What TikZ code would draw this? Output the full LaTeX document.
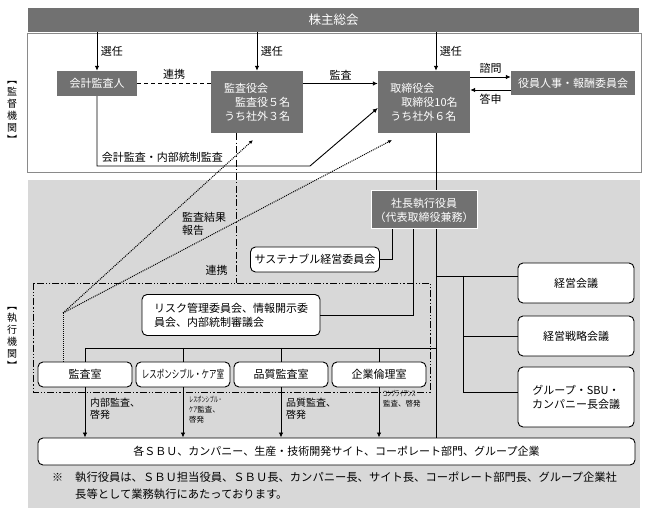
\documentclass[tikz,border=0pt]{standalone}
\usepackage{fontspec}
\setmainfont{Noto Sans CJK JP}
\newfontfamily\narrowjp[FakeStretch=0.68]{Noto Sans CJK JP}
\newfontfamily\tinyjp[FakeStretch=0.55]{Noto Sans CJK JP}
\usetikzlibrary{arrows.meta}

\definecolor{boardgray}{HTML}{717171}
\definecolor{framegray}{HTML}{8A8A8A}
\definecolor{execgray}{HTML}{D8D8D8}

\begin{document}
\begin{tikzpicture}[x=1pt, y=-1pt,
    every node/.style={font=\fontsize{11pt}{14pt}\selectfont},
    darkbox/.style={fill=boardgray, text=white, inner sep=0pt},
    roundbox/.style={draw, fill=white, rounded corners=5pt, line width=0.9pt, inner sep=0pt},
    arr/.style={-{Latex[length=5pt,width=4.5pt]}, line width=0.9pt},
    link/.style={line width=0.9pt},
    dashlink/.style={line width=0.9pt, dash pattern=on 4pt off 3pt},
    chainline/.style={line width=0.9pt, dash pattern=on 7pt off 2.5pt on 1.2pt off 2.5pt},
    groupframe/.style={line width=0.9pt, dash pattern=on 7pt off 2pt on 1.2pt off 2pt on 1.2pt off 2pt},
    dotline/.style={line width=1pt, dash pattern=on 1pt off 1pt},
    dotarr/.style={dotline, -{Latex[length=4pt,width=3.5pt]}},
    sidelabel/.style={font=\fontsize{10pt}{12pt}\selectfont, align=left, anchor=west, inner sep=0pt},
    tinylabel/.style={font=\fontsize{7.5pt}{10pt}\selectfont, align=left, anchor=north west, inner sep=0pt},
    vlabel/.style={font=\fontsize{10pt}{12pt}\selectfont, align=center, inner sep=0pt}]
    \useasboundingbox (0,0) rectangle (648,518);
    \fill[execgray] (28,180) rectangle (640,508);
    \draw[framegray, fill=white, line width=1pt] (27.5,34) rectangle (641.5,173);

    \node (shareholders) [darkbox, minimum width=611pt, minimum height=24pt, font=\fontsize{12.5pt}{14pt}\selectfont] at (333.5, 20) {株主総会};
    \node (kantokulabel) [vlabel] at (12, 112) {︻\\監\\督\\機\\関\\︼};
    \node (shikkolabel) [vlabel] at (12, 338) {︻\\執\\行\\機\\関\\︼};

    \node (kaikei) [darkbox, minimum width=80pt, minimum height=25pt] at (97, 83.5) {会計監査人};
    \node (kansayaku) [darkbox, minimum width=92pt, minimum height=62pt, align=left] at (257, 102) {監査役会\\\hspace*{1em}監査役５名\\うち社外３名};
    \node (torishimari) [darkbox, minimum width=92pt, minimum height=62pt, align=left] at (424, 102) {取締役会\\\hspace*{1em}取締役10名\\うち社外６名};
    \node (jinji) [darkbox, minimum width=124pt, minimum height=24pt] at (573, 83) {役員人事・報酬委員会};

    \coordinate (trunk) at (436, 0);
    \coordinate (bend) at (310, 166);

    \node (sbu) [roundbox, minimum width=597pt, minimum height=27pt] at (336.5, 451.5) {各ＳＢＵ、カンパニー、生産・技術開発サイト、コーポレート部門、グループ企業};

    \draw[arr] (kaikei |- shareholders.south) -- node[right] {選任} (kaikei.north);
    \draw[arr] (kansayaku |- shareholders.south) -- node[right] {選任} (kansayaku.north);
    \draw[arr] (trunk |- shareholders.south) -- node[right] {選任} (trunk |- torishimari.north);
    \draw[dashlink] (kaikei.east) -- node[above] {連携} (kansayaku.west |- kaikei.east);
    \draw[arr] (kansayaku.east |- kaikei.east) -- node[above] {監査} (torishimari.west |- kaikei.east);
    \draw[arr] (torishimari.east |- 0,77) -- node[above] {諮問} (jinji.west |- 0,77);
    \draw[arr] (jinji.west |- 0,90) -- node[below] {答申} (torishimari.east |- 0,90);
    \draw[arr] (kaikei.south) -- (kaikei.south |- bend) node[above right, xshift=1pt] {会計監査・内部統制監査} -- (bend) -- (torishimari.west |- 0,108);

    \draw[link] (trunk |- torishimari.south) -- (trunk |- sbu.north);
    \node (shacho) [darkbox, draw=white, line width=1pt, minimum width=106pt, minimum height=38pt, align=center] at (424, 210) {社長執行役員\\（代表取締役兼務）};

    \node (sustain) [roundbox, minimum width=129pt, minimum height=25pt] at (315, 259.5) {サステナブル経営委員会};
    \node (risk) [roundbox, minimum width=178pt, minimum height=41pt, align=left] at (231, 315) {リスク管理委員会、情報開示委\\員会、内部統制審議会};
    \draw[link] (shacho.south -| 392,0) |- (sustain.east);
    \draw[link] (shacho.south -| 413,0) |- (risk.east);

    \draw[groupframe] (33,283) rectangle (430,392);
    \coordinate (frametop) at (236, 283);

    \node (kansashitsu) [roundbox, minimum width=94pt, minimum height=25pt] at (85, 374.5) {監査室};
    \node (rcare) [roundbox, minimum width=94pt, minimum height=25pt] at (183, 374.5) {\narrowjp レスポンシブル・ケア室};
    \node (hinshitsu) [roundbox, minimum width=94pt, minimum height=25pt] at (281, 374.5) {品質監査室};
    \node (rinri) [roundbox, minimum width=94pt, minimum height=25pt] at (379, 374.5) {企業倫理室};

    \draw[link] (kansashitsu.north |- 0,348) -- (trunk |- 0,348);
    \foreach \unit in {kansashitsu, rcare, hinshitsu, rinri} {
        \draw[link] (\unit.north |- 0,348) -- (\unit.north);
        \draw[arr] (\unit.south) -- (\unit.south |- sbu.north);
    }

    \node (naibulabel) [sidelabel] at (90, 409) {内部監査、\\啓発};
    \node (hinshitsulabel) [sidelabel] at (286, 409) {品質監査、\\啓発};
    \node (rclabel) [tinylabel] at (189, 396) {{\tinyjp レスポンシブル・}\\{\tinyjp ケア}監査、\\啓発};
    \node (compllabel) [tinylabel] at (383, 390) {{\tinyjp コンプライアンス}\\監査、啓発};

    \node (keiei) [roundbox, minimum width=116pt, minimum height=40pt] at (576, 283) {経営会議};
    \node (senryaku) [roundbox, minimum width=116pt, minimum height=40pt] at (576, 336) {経営戦略会議};
    \node (groupmtg) [roundbox, minimum width=116pt, minimum height=60pt, align=center] at (576, 397) {グループ・SBU・\\カンパニー長会議};

    \coordinate (meetbus) at (463, 276);
    \draw[link] (trunk |- meetbus) -- (keiei.west |- meetbus);
    \draw[link] (meetbus) |- (groupmtg.west |- 0,392);
    \draw[link] (meetbus |- senryaku.west) -- (senryaku.west);

    \coordinate (reportfork) at (63, 313);
    \coordinate (kansayakuend) at (253, 140);
    \coordinate (torishimariend) at (392, 140);
    \draw[dotline] (kansashitsu.north -| reportfork) -- (reportfork);
    \draw[dotarr] (reportfork) -- (kansayakuend);
    \draw[dotarr] (reportfork) -- (torishimariend);
    \draw[chainline] (kansayaku.south -| frametop) -- (frametop);

    \node (reportlabel) [align=left, anchor=west, inner sep=0pt, font=\fontsize{11pt}{13pt}\selectfont] at (182, 224) {監査結果\\報告};
    \node (renkeilabel) [inner sep=0pt] at (216.5, 270) {連携};

    \node (komemark) [anchor=west, inner sep=0pt] at (52, 477.5) {※};
    \node (note) [anchor=west, align=left, inner sep=0pt, font=\fontsize{11.3pt}{17pt}\selectfont] at (75, 485.5) {執行役員は、ＳＢＵ担当役員、ＳＢＵ長、カンパニー長、サイト長、コーポレート部門長、グループ企業社\\長等として業務執行にあたっております。};
\end{tikzpicture}
\end{document}
